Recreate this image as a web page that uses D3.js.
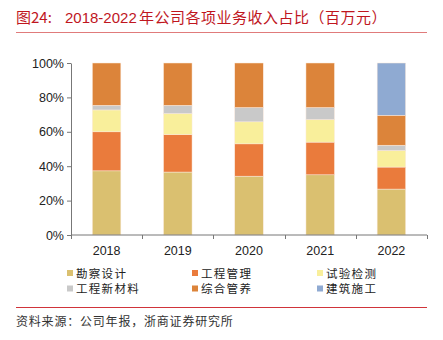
<!DOCTYPE html>
<html>
<head>
<meta charset="utf-8">
<script src="https://cdn.jsdelivr.net/npm/d3@7"></script>
<style>
  body { margin: 0; background: #fff; }
  svg { display: block; font-family: "Liberation Sans", Arial, sans-serif; }
  .cn { font-family: "Noto Sans CJK SC", "Liberation Sans", sans-serif; }
</style>
</head>
<body>
<svg id="chart" width="443" height="340"></svg>
<script>
var years = ["2018", "2019", "2020", "2021", "2022"];
var seriesNames = ["勘察设计", "工程管理", "试验检测", "工程新材料", "综合管养", "建筑施工"];
var seriesColors = ["#dac070", "#ea7b3c", "#f9ef9b", "#c9c9c9", "#dc843a", "#8faad2"];
// percent shares per year
var kanchaSheji = [37.3, 36.6, 34.2, 35.0, 26.7];
var gongchengGuanli = [22.7, 21.8, 18.8, 19.0, 12.8];
var shiyanJiance = [12.7, 12.2, 12.8, 13.1, 9.6];
var xinCailiao = [2.7, 4.8, 8.3, 7.0, 3.1];
var zongheGuanyang = [24.6, 24.6, 25.9, 25.9, 17.4];
var jianzhuShigong = [0, 0, 0, 0, 30.4];
var yTicks = [0, 0.2, 0.4, 0.6, 0.8, 1];

var allSeries = [kanchaSheji, gongchengGuanli, shiyanJiance, xinCailiao, zongheGuanyang, jianzhuShigong];
var data = years.map(function(y, i) {
  var row = {year: y};
  seriesNames.forEach(function(k, j) { row[k] = allSeries[j][i]; });
  return row;
});

var svg = d3.select("#chart"),
    margin = {top: 63, right: 16, bottom: 105, left: 71},
    width = +svg.attr("width") - margin.left - margin.right,
    height = +svg.attr("height") - margin.top - margin.bottom,
    g = svg.append("g").attr("transform", "translate(" + margin.left + "," + margin.top + ")");

// title
var title = svg.append("text")
    .attr("class", "cn")
    .attr("x", 16).attr("y", 23)
    .attr("fill", "#c0161e")
    .style("font-size", "15px");
title.append("tspan").text("图24:");
title.append("tspan").attr("x", 65).style("font-family", "Liberation Sans").style("font-size", "15px").text("2018-2022");
title.append("tspan").attr("x", 139).style("letter-spacing", "0.5px").text("年公司各项业务收入占比（百万元）");
svg.append("line")
    .attr("x1", 16).attr("x2", 427).attr("y1", 32.5).attr("y2", 32.5)
    .attr("stroke", "#e07b7b").attr("stroke-width", 1.2);

var x = d3.scaleBand()
    .domain(years)
    .range([0, width])
    .paddingInner(0.6)
    .paddingOuter(0.3);

var y = d3.scaleLinear()
    .domain([0, 1])
    .range([height, 0]);

var z = d3.scaleOrdinal().domain(seriesNames).range(seriesColors);

var stack = d3.stack().keys(seriesNames).offset(d3.stackOffsetExpand);

g.selectAll(".serie")
  .data(stack(data))
  .enter().append("g")
    .attr("class", "serie")
    .attr("fill", function(d) { return z(d.key); })
  .selectAll("rect")
  .data(function(d) { return d; })
  .enter().append("rect")
    .attr("x", function(d) { return x(d.data.year); })
    .attr("y", function(d) { return y(d[1]); })
    .attr("height", function(d) { return y(d[0]) - y(d[1]); })
    .attr("width", x.bandwidth())
    .attr("stroke", "#fbe9dc")
    .attr("stroke-width", 0.5);

// y axis
var yAxis = g.append("g")
    .call(d3.axisLeft(y).tickValues(yTicks).tickFormat(d3.format(".0%")).tickSize(4).tickSizeOuter(0));
yAxis.select(".domain").attr("stroke", "#777");
yAxis.selectAll(".tick line").attr("stroke", "#777");
yAxis.selectAll("text").attr("fill", "#222").style("font-size", "12.5px").attr("x", -7);

// x axis with ticks between bands
var xAxis = g.append("g").attr("transform", "translate(0," + height + ")");
xAxis.append("line")
    .attr("x1", 0).attr("x2", width)
    .attr("stroke", "#777");
var step = x.step();
xAxis.selectAll(".sep")
  .data(d3.range(years.length + 1))
  .enter().append("line")
    .attr("x1", function(i) { return Math.round(i * step) + 0.5; })
    .attr("x2", function(i) { return Math.round(i * step) + 0.5; })
    .attr("y1", 0).attr("y2", 4)
    .attr("stroke", "#777");
xAxis.selectAll(".lbl")
  .data(years)
  .enter().append("text")
    .attr("x", function(d) { return x(d) + x.bandwidth() / 2; })
    .attr("y", 20)
    .attr("text-anchor", "middle")
    .attr("fill", "#222")
    .style("font-size", "12.5px")
    .text(function(d) { return d; });

// legend
var legend = svg.append("g").selectAll("g")
  .data(seriesNames)
  .enter().append("g")
    .attr("transform", function(d, i) {
      return "translate(" + (67 + (i % 3) * 125) + "," + (273 + Math.floor(i / 3) * 15.5) + ")";
    });
legend.append("rect")
    .attr("x", 0).attr("y", -3).attr("width", 6).attr("height", 6)
    .attr("fill", function(d) { return z(d); });
legend.append("text")
    .attr("class", "cn")
    .attr("x", 9).attr("y", 4.5)
    .attr("fill", "#222")
    .style("font-size", "11.5px")
    .style("letter-spacing", "1.3px")
    .text(function(d) { return d; });

// source
svg.append("line")
    .attr("x1", 16).attr("x2", 427).attr("y1", 307.5).attr("y2", 307.5)
    .attr("stroke", "#d0343a").attr("stroke-width", 1);
svg.append("text")
    .attr("class", "cn")
    .attr("x", 16).attr("y", 326)
    .attr("fill", "#333")
    .style("font-size", "12px")
    .style("letter-spacing", "0.8px")
    .text("资料来源：公司年报，浙商证券研究所");
</script>
</body>
</html>
